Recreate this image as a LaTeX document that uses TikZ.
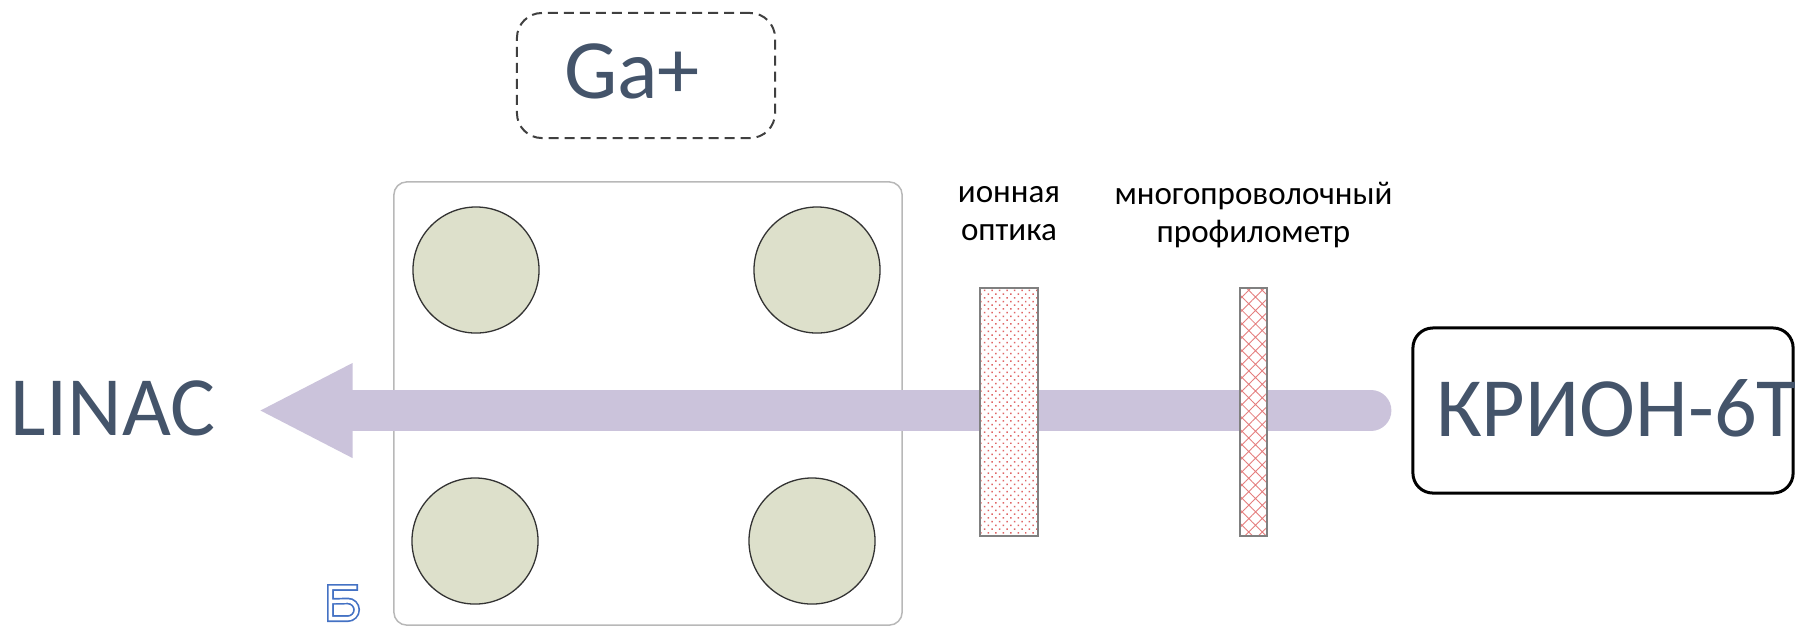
\documentclass[tikz,border=0pt]{standalone}
\usepackage{fontspec}
\setmainfont{Carlito}
\usetikzlibrary{arrows.meta, patterns.meta, positioning}
\definecolor{titletext}{HTML}{44546A}
\definecolor{beamcol}{HTML}{CBC3DB}
\definecolor{polefill}{HTML}{DDE0CB}
\definecolor{hatchred}{HTML}{E06666}
\definecolor{markblue}{HTML}{4472C4}
\tikzstyle{title} = [text=titletext, inner sep=0pt,
    font=\fontsize{24pt}{29pt}\selectfont]
\tikzstyle{caption} = [align=center, inner sep=0pt,
    font=\fontsize{9.4pt}{10.8pt}\selectfont]
\tikzstyle{sourcebox} = [draw=black!75, dash pattern=on 0.1cm off 0.06cm,
    rounded corners=0.25cm, line width=0.02cm, minimum width=2.58cm,
    minimum height=1.25cm]
\tikzstyle{machine} = [draw=black, rounded corners=0.2cm, line width=0.03cm,
    minimum width=3.8cm, minimum height=1.65cm]
\tikzstyle{frame} = [draw=black!28, rounded corners=0.13cm, line width=0.015cm,
    minimum width=5.08cm, minimum height=4.43cm]
\tikzstyle{pole} = [draw=black!80, fill=polefill, circle, line width=0.013cm,
    minimum size=1.26cm, inner sep=0pt]
\tikzstyle{plate} = [draw=black!50, preaction={fill=white}, rectangle,
    line width=0.015cm, minimum height=2.48cm, inner sep=0pt]
\tikzstyle{beam} = [line width=0.41cm, beamcol, line cap=round,
    -{Triangle[length=0.92cm 0 0, width=0.95cm 0 0, line width=0pt 0 0]}]

\begin{document}
\begin{tikzpicture}[x=0.01cm, y=-0.01cm]
  \useasboundingbox (0,0) rectangle (1795,626);

  % Place the blocks
  \node [title] (linac) at (113,408) {LINAC};
  \node [sourcebox] (ionsrc) at (646,75.5) {};
  \node [title] (galabel) at (632,71.5) {Ga+};
  \node [machine] (krion) at (1603,410.5) {};
  \node [title] (krionlabel) at (1617,408.5) {КРИОН-6Т};

  % Quadrupole
  \node [frame] (quad) at (648,403.5) {};
  \node [pole] (q1) at (476,270) {};
  \node [pole] (q2) at (817,270) {};
  \node [pole] (q3) at (475,541) {};
  \node [pole] (q4) at (812,541) {};

  % Beam from the source to the linac
  \draw [beam, shorten <=0.405cm, shorten >=0.445cm]
    (krion.west) -- (krion.west -| linac.east);

  % Optics and wire profile monitor
  \node [plate, minimum width=0.58cm, pattern color=hatchred,
    pattern={Dots[radius=0.3pt, distance=1.5pt, angle=45]}]
    (optics) at (1009,412) {};
  \node [plate, minimum width=0.27cm, pattern color=hatchred!85,
    pattern={Hatch[distance=2.7pt, angle=45, line width=0.25pt]}]
    (profiler) at (1253.5,412) {};
  \node [caption, above=0.46cm of optics] (optlabel) {ионная\\оптика};
  \node [caption, above=0.39cm of profiler] (proflabel)
    {многопроволочный\\профилометр};

  % Outlined letter in the corner
  \draw [markblue, line width=0.068cm]
    (358,587.4) -- (330.4,587.4) -- (330.4,618.6) -- (347.8,618.6)
    arc[start angle=-90, end angle=90, radius=0.088cm] -- (330.4,601.4);
  \draw [white, line width=0.034cm, shorten <=0.017cm, shorten >=0.017cm]
    (358,587.4) -- (330.4,587.4) -- (330.4,618.6) -- (347.8,618.6)
    arc[start angle=-90, end angle=90, radius=0.088cm] -- (330.4,601.4);
\end{tikzpicture}
\end{document}
